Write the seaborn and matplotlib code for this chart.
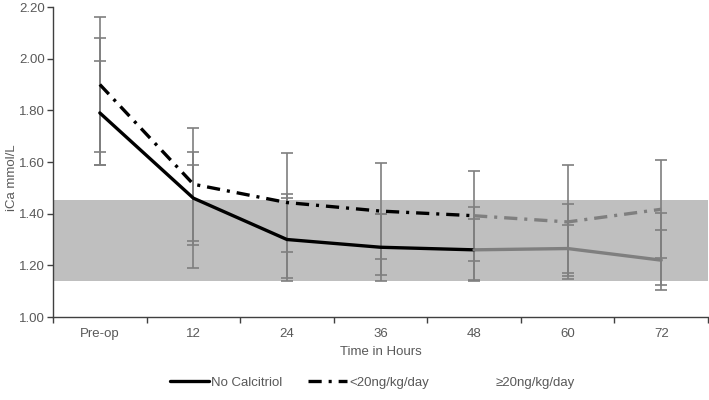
import numpy as np
import pandas as pd
import matplotlib
matplotlib.use("Agg")
import matplotlib.pyplot as plt
from matplotlib.lines import Line2D
import seaborn as sns

sns.set_theme(style="white")
plt.rcParams['font.family'] = ['Liberation Sans', 'DejaVu Sans']
plt.rcParams['lines.scale_dashes'] = False

# Data
time_labels = ["Pre-op", "12", "24", "36", "48", "60", "72"]
no_calcitriol = [1.79, 1.46, 1.30, 1.27, 1.26, 1.265, 1.22]
no_calcitriol_err = [0.20, 0.18, 0.16, 0.13, 0.118, 0.093, 0.117]
low_dose = [1.90, 1.514, 1.443, 1.41, 1.392, 1.368, 1.417]
low_dose_err = [0.26, 0.218, 0.19, 0.186, 0.175, 0.222, 0.19]
high_dose = [1.835, 1.389, 1.313, 1.281, 1.283, 1.299, 1.263]
high_dose_err = [0.245, 0.20, 0.163, 0.119, 0.142, 0.139, 0.139]
normal_range = (1.14, 1.453)

TEXT = '#595959'
GRAY = '#7f7f7f'
dashdot = (0, (9.5, 5, 2.2, 5))

x = np.arange(len(time_labels))
df = pd.DataFrame({'x': x, 'none': no_calcitriol, 'low': low_dose})

fig = plt.figure(figsize=(7.09, 4.0), dpi=100)
ax = fig.add_axes([0.0748, 0.2075, 0.9238, 0.775])

ax.axhspan(*normal_range, color='#bfbfbf', lw=0, zorder=0)

# error bars for all three groups
for means, errs in [(no_calcitriol, no_calcitriol_err), (low_dose, low_dose_err), (high_dose, high_dose_err)]:
    ax.errorbar(x, means, yerr=errs, fmt='none', ecolor=GRAY, elinewidth=1.2,
                capsize=4, capthick=1.2, zorder=2)

# lines: black up to 48 h, gray afterwards
first, last = df[df.x <= 4], df[df.x >= 4]
sns.lineplot(data=first, x='x', y='none', color='black', lw=2.4, ax=ax, zorder=3)
sns.lineplot(data=last, x='x', y='none', color=GRAY, lw=2.4, ax=ax, zorder=3)
sns.lineplot(data=first, x='x', y='low', color='black', lw=2.4, linestyle=dashdot, ax=ax, zorder=3)
sns.lineplot(data=last, x='x', y='low', color=GRAY, lw=2.4, linestyle=dashdot, ax=ax, zorder=3)

ax.set_xlim(-0.5, len(time_labels) - 0.5)
ax.set_ylim(1.0, 2.2)
ax.set_yticks(np.arange(1.0, 2.21, 0.2))
ax.set_yticklabels([f"{v:.2f}" for v in np.arange(1.0, 2.21, 0.2)])

ax.set_xticks(np.arange(-0.5, len(time_labels), 1.0))
ax.set_xticklabels([])
ax.set_xticks(x, minor=True)
ax.set_xticklabels(time_labels, minor=True)
ax.tick_params(axis='x', which='major', direction='out', length=4, width=1, color='#404040', bottom=True)
ax.tick_params(axis='x', which='minor', length=0, pad=8, labelsize=9.5, labelcolor=TEXT)
ax.tick_params(axis='y', direction='out', length=4, width=1, color='#404040', left=True,
               labelsize=9.5, labelcolor=TEXT, pad=2)

for s in ['top', 'right']:
    ax.spines[s].set_visible(False)
for s in ['left', 'bottom']:
    ax.spines[s].set_color('#404040')
    ax.spines[s].set_linewidth(1)

ax.set_xlabel("Time in Hours", fontsize=9.5, color=TEXT, labelpad=4)
ax.set_ylabel("iCa mmol/L", fontsize=9.5, color=TEXT)
ax.yaxis.set_label_coords(-0.054, 0.45)

handles = [
    Line2D([], [], color='black', lw=2.4),
    Line2D([], [], color='black', lw=2.4, linestyle=dashdot),
    Line2D([], [], color='white', lw=2.4),
]
fig.legend(handles, ["No Calcitriol", "<20ng/kg/day", "\u226520ng/kg/day"],
           loc='center', bbox_to_anchor=(0.525, 0.043), ncol=3, frameon=False,
           fontsize=9.5, labelcolor=TEXT, handlelength=3.0, handletextpad=0.15,
           columnspacing=1.9)

fig.savefig("out.png", dpi=100)
